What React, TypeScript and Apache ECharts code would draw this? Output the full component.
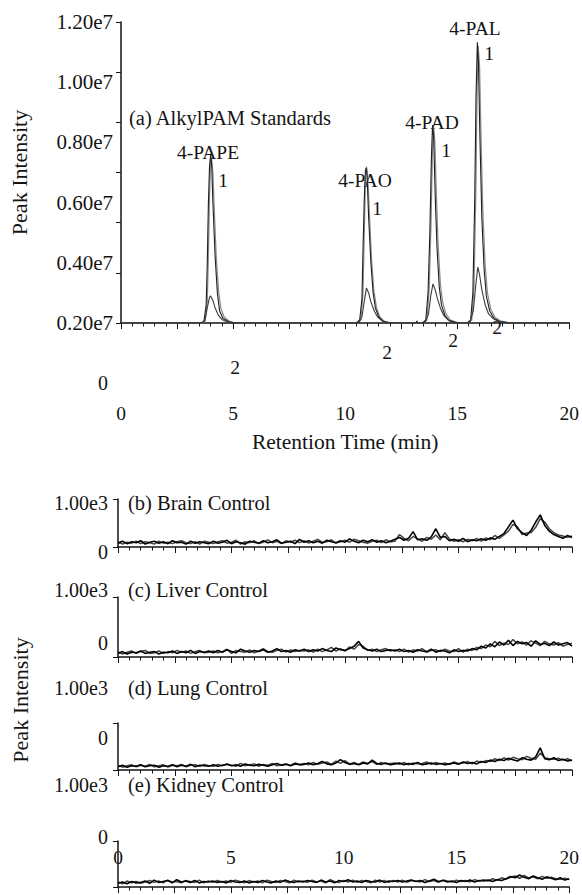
import React, { useEffect, useRef } from "react";
import * as echarts from "echarts";

// ---------- data ----------
// Retention times (min) for the control chromatograms
const TIMES = [0,0.2,0.4,0.6,0.8,1,1.2,1.4,1.6,1.8,2,2.2,2.4,2.6,2.8,3,3.2,3.4,3.6,3.8,4,
  4.2,4.4,4.6,4.8,5,5.2,5.4,5.6,5.8,6,6.2,6.4,6.6,6.8,7,7.2,7.4,7.6,7.8,8,
  8.2,8.4,8.6,8.8,9,9.2,9.4,9.6,9.8,10,10.2,10.4,10.6,10.8,11,11.2,11.4,11.6,11.8,12,
  12.2,12.4,12.6,12.8,13,13.2,13.4,13.6,13.8,14,14.2,14.4,14.6,14.8,15,15.2,15.4,15.6,15.8,16,
  16.2,16.4,16.6,16.8,17,17.2,17.4,17.6,17.8,18,18.2,18.4,18.6,18.8,19,19.2,19.4,19.6,19.8,20];

const BRAIN = [80,120,70,110,90,130,60,100,120,80,110,70,130,90,100,60,120,80,110,90,70,
  120,80,100,140,70,110,90,60,120,100,80,130,90,110,150,80,100,120,70,160,
  100,130,90,120,80,140,110,90,130,100,170,120,90,140,110,150,100,130,90,120,
  160,200,140,180,320,150,170,140,210,380,200,220,130,160,120,180,110,150,130,170,
  140,190,160,220,280,420,560,380,300,240,350,520,670,450,330,260,220,180,240,200];
const BRAIN_REPLICATE = [110,60,100,80,120,70,110,90,60,120,80,100,70,110,130,90,70,110,60,120,100,
  70,110,130,80,100,140,60,110,90,130,70,100,150,90,120,70,130,100,140,90,
  130,80,120,160,100,110,150,80,110,140,100,160,130,100,80,120,140,90,150,110,
  120,260,180,130,220,170,120,200,160,250,150,300,170,120,150,110,160,130,180,120,
  190,150,240,180,250,330,470,420,260,290,300,410,590,520,380,300,250,230,200,230];

const LIVER = [60,90,50,80,70,100,60,80,90,50,80,70,100,60,90,70,110,60,90,80,100,
  70,110,80,120,90,70,130,100,80,110,90,120,80,100,140,90,110,80,120,100,
  130,90,120,100,140,110,90,150,120,110,140,180,260,150,120,100,130,90,110,120,
  100,130,90,110,80,120,100,90,130,80,110,100,70,120,90,110,100,140,120,180,
  150,220,170,250,200,280,190,260,220,240,180,270,210,230,190,250,200,220,240,180];
const LIVER_REPLICATE = [90,50,80,100,60,90,110,60,70,100,60,90,70,110,80,100,60,90,110,70,80,
  100,70,90,130,60,110,90,80,120,70,100,140,90,80,110,130,80,120,90,110,
  100,120,80,130,90,120,160,100,140,100,170,130,210,180,110,130,90,120,140,100,
  120,90,130,80,120,100,140,80,110,120,90,130,100,90,140,80,130,110,160,140,
  200,170,260,190,230,210,290,220,250,200,270,230,190,260,220,200,240,180,210,230];

const LUNG = [70,100,60,90,80,110,70,90,100,60,90,80,110,70,100,80,120,70,100,90,80,
  110,80,100,120,90,110,80,130,100,90,120,100,80,110,140,100,120,90,130,110,
  120,150,110,140,180,130,110,150,220,160,120,140,110,150,130,210,140,120,150,110,
  130,150,110,140,120,160,110,130,150,120,140,110,130,150,120,170,140,160,130,180,
  160,210,180,230,200,250,220,190,260,230,210,280,470,240,220,260,200,230,190,210];
const LUNG_REPLICATE = [100,60,90,110,70,100,80,120,70,90,110,60,100,90,120,70,100,110,80,120,90,
  80,120,90,130,100,80,140,90,110,130,80,120,100,140,90,110,130,100,150,120,
  140,110,160,120,150,170,120,190,140,200,130,160,120,170,140,180,120,160,130,140,
  150,120,160,110,150,130,140,170,120,160,130,150,120,170,140,150,180,130,190,160,
  200,180,240,200,260,210,270,240,220,290,250,230,360,260,240,230,250,210,240,200];

const KIDNEY = [80,110,70,120,90,100,130,80,150,100,120,140,90,160,110,130,100,140,90,120,110,
  130,100,120,90,140,110,100,130,90,120,100,140,110,90,130,100,150,120,100,130,
  110,140,120,100,150,110,130,90,140,120,160,110,130,100,140,120,110,150,100,130,
  120,140,110,130,150,120,140,100,130,170,120,140,110,130,100,140,120,150,110,140,
  130,150,120,160,140,180,230,200,260,210,180,240,200,170,220,190,160,200,150,180];
const KIDNEY_REPLICATE = [110,70,130,90,120,80,110,140,100,130,90,150,110,120,90,140,120,100,150,90,130,
  100,140,110,130,100,150,120,90,140,110,130,90,150,120,100,140,120,90,150,110,
  130,100,150,110,130,90,160,120,100,140,110,150,100,140,120,90,150,110,140,100,
  140,110,150,100,140,130,110,160,120,140,100,150,130,110,150,120,140,110,160,130,
  160,130,180,150,200,170,210,240,190,250,200,220,180,230,190,210,180,170,190,160];

// Standards, intensities in units of 1e7: [time, intensity]
const STD_TRACE_1 = [
  [0,0.2],[3.55,0.2],[3.7,0.205],[3.8,0.26],[3.85,0.4],[3.9,0.6],[3.95,0.72],[4.0,0.758],[4.05,0.72],[4.1,0.6],[4.2,0.42],[4.3,0.3],[4.4,0.24],[4.55,0.215],[4.8,0.205],[5.0,0.2],
  [10.5,0.2],[10.65,0.21],[10.75,0.28],[10.8,0.45],[10.85,0.6],[10.9,0.7],[10.93,0.715],[10.98,0.69],[11.05,0.55],[11.15,0.4],[11.25,0.3],[11.35,0.25],[11.5,0.22],[11.7,0.205],[12.0,0.2],
  [13.15,0.2],[13.2,0.207],[13.25,0.2],
  [13.45,0.2],[13.6,0.21],[13.7,0.3],[13.78,0.5],[13.85,0.75],[13.9,0.858],[13.95,0.82],[14.02,0.62],[14.1,0.45],[14.2,0.32],[14.3,0.26],[14.45,0.225],[14.65,0.207],[15.0,0.2],
  [15.45,0.2],[15.6,0.21],[15.7,0.3],[15.78,0.6],[15.84,0.95],[15.9,1.133],[15.95,1.06],[16.02,0.8],[16.1,0.55],[16.2,0.38],[16.3,0.29],[16.45,0.24],[16.65,0.215],[16.9,0.205],[17.3,0.2],
  [20,0.2]];

const STD_TRACE_1_REPLICATE = [
  [0,0.2],[3.6,0.2],[3.75,0.205],[3.85,0.27],[3.9,0.42],[3.95,0.62],[4.0,0.73],[4.04,0.75],[4.1,0.7],[4.16,0.58],[4.25,0.42],[4.35,0.31],[4.45,0.25],[4.6,0.22],[4.85,0.205],[5.1,0.2],
  [10.55,0.2],[10.7,0.21],[10.8,0.3],[10.85,0.48],[10.9,0.65],[10.95,0.72],[11.0,0.7],[11.08,0.57],[11.18,0.41],[11.28,0.31],[11.4,0.25],[11.55,0.22],[11.75,0.205],[12.05,0.2],
  [13.5,0.2],[13.65,0.21],[13.75,0.31],[13.83,0.52],[13.9,0.78],[13.95,0.85],[14.0,0.81],[14.07,0.63],[14.15,0.46],[14.25,0.33],[14.35,0.27],[14.5,0.23],[14.7,0.21],[15.05,0.2],
  [15.5,0.2],[15.65,0.21],[15.75,0.32],[15.83,0.62],[15.89,0.98],[15.94,1.12],[16.0,1.05],[16.07,0.8],[16.15,0.56],[16.25,0.39],[16.35,0.3],[16.5,0.245],[16.7,0.218],[16.95,0.206],[17.4,0.2],
  [20,0.2]];

const STD_TRACE_2 = [
  [0,0.2],[3.6,0.2],[3.75,0.21],[3.85,0.25],[3.95,0.285],[4.0,0.29],[4.1,0.275],[4.2,0.25],[4.35,0.225],[4.5,0.212],[4.7,0.205],[5.0,0.202],[5.3,0.2],
  [10.6,0.2],[10.75,0.22],[10.85,0.27],[10.95,0.316],[11.05,0.3],[11.15,0.27],[11.3,0.24],[11.45,0.22],[11.65,0.207],[12.0,0.201],[12.3,0.2],
  [13.55,0.2],[13.72,0.23],[13.82,0.29],[13.92,0.33],[14.02,0.31],[14.12,0.28],[14.25,0.25],[14.4,0.225],[14.6,0.21],[14.9,0.203],[15.2,0.2],
  [15.55,0.2],[15.72,0.24],[15.82,0.32],[15.92,0.386],[16.0,0.36],[16.1,0.31],[16.25,0.26],[16.4,0.23],[16.6,0.215],[16.85,0.205],[17.2,0.202],[17.6,0.2],
  [20,0.2]];

// tick labels
const X_TICK_VALUES = [0, 5, 10, 15, 20];
const Y_TICK_LABELS_A = ["0.20e7", "0.40e7", "0.60e7", "0.80e7", "1.00e7", "1.20e7"];
const Y_TICK_LABELS_CONTROL = ["0", "1.00e3"];

const PEAK_NAMES = ["4-PAPE", "4-PAO", "4-PAD", "4-PAL"];
const PANEL_TITLES = ["(a) AlkylPAM Standards", "(b) Brain Control", "(c) Liver Control", "(d) Lung Control", "(e) Kidney Control"];
const CONTROLS = [BRAIN, LIVER, LUNG, KIDNEY];
const CONTROLS_REPLICATE = [BRAIN_REPLICATE, LIVER_REPLICATE, LUNG_REPLICATE, KIDNEY_REPLICATE];

// ---------- styling / layout ----------
const FONT = "Liberation Serif, Times New Roman, serif";
const INK = "#141414";
const F_TICK = 21;
const F_TITLE = 20.5;
const F_PEAK = 19.5;
const F_NAME = 22;

export default function App() {
  const ref = useRef<HTMLDivElement>(null);

  useEffect(() => {
    if (!ref.current) return;
    const chart = echarts.init(ref.current, null, { renderer: "svg" });

    const controlGrids = [
      { top: 499, height: 48 },
      { top: 597, height: 60 },
      { top: 723, height: 47 },
      { top: 841, height: 46 },
    ];
    // vertical shift (px, upward) of the [0, 1.00e3] labels per panel
    const labelShift = [[-5, -4], [14, 7], [32, 35], [50, 56]];
    const pad = (s: number) => (s >= 0 ? [0, 0, 2 * s, 0] : [-2 * s, 0, 0, 0]);

    const xBase = {
      type: "value",
      min: 0,
      max: 20,
      interval: 2.5,
      axisLine: { onZero: false, lineStyle: { color: INK, width: 1.5 } },
      axisTick: { show: true, length: 6, lineStyle: { color: INK, width: 1 } },
      minorTick: { show: true, splitNumber: 5, length: 3.5, lineStyle: { color: INK, width: 1 } },
      splitLine: { show: false },
      minorSplitLine: { show: false },
    };
    const xFmt = (v: number) => (X_TICK_VALUES.includes(Math.round(v * 100) / 100) ? String(Math.round(v)) : "");

    const grids = [{ left: 118, top: 22, width: 454, height: 301 }].concat(
      controlGrids.map((g) => ({ left: 118, top: g.top, width: 454, height: g.height }))
    );

    const xAxes: any[] = [
      {
        ...xBase,
        gridIndex: 0,
        axisLabel: { margin: 80, formatter: xFmt, color: INK, fontSize: 19.5, fontFamily: FONT },
        name: "Retention Time (min)",
        nameLocation: "middle",
        nameGap: 108,
        nameTextStyle: { color: INK, fontSize: 21.5, fontFamily: FONT },
      },
    ];
    controlGrids.forEach((_, i) => {
      xAxes.push({
        ...xBase,
        gridIndex: i + 1,
        axisLabel:
          i === 3
            ? { show: true, inside: true, margin: 20, formatter: xFmt, color: INK, fontSize: 19.5, fontFamily: FONT }
            : { show: false },
      });
    });

    const yAxes: any[] = [
      {
        type: "value",
        gridIndex: 0,
        min: 0,
        max: 6,
        interval: 1,
        axisLine: { show: true, lineStyle: { color: INK, width: 1.5 } },
        axisTick: { show: true, length: 5, lineStyle: { color: INK } },
        axisLabel: { show: false },
        splitLine: { show: false },
        name: "Peak Intensity",
        nameLocation: "middle",
        nameGap: 91,
        nameTextStyle: { color: INK, fontSize: F_NAME, fontFamily: FONT },
      },
      {
        type: "value",
        gridIndex: 0,
        position: "left",
        min: 0.2,
        max: 1.2,
        interval: 0.2,
        axisLine: { show: false },
        axisTick: { show: false },
        splitLine: { show: false },
        axisLabel: {
          margin: 8,
          color: INK,
          fontSize: F_TICK,
          fontFamily: FONT,
          formatter: (_v: number, i: number) => Y_TICK_LABELS_A[i] ?? "",
        },
      },
    ];
    controlGrids.forEach((_, i) => {
      const [s0, s1] = labelShift[i];
      yAxes.push({
        type: "value",
        gridIndex: i + 1,
        min: 0,
        max: 1000,
        interval: 1000,
        axisLine: { show: true, lineStyle: { color: INK, width: 1.5 } },
        axisTick: { show: true, length: 5, lineStyle: { color: INK } },
        splitLine: { show: false },
        axisLabel: {
          margin: 10,
          color: INK,
          fontSize: 20,
          fontFamily: FONT,
          formatter: (_v: number, idx: number) => (idx === 0 ? `{z|${Y_TICK_LABELS_CONTROL[0]}}` : `{t|${Y_TICK_LABELS_CONTROL[1]}}`),
          rich: {
            z: { padding: pad(s0), fontSize: 20, fontFamily: FONT, color: INK },
            t: { padding: pad(s1), fontSize: 20, fontFamily: FONT, color: INK },
          },
        },
      });
    });

    const line = (name: string, data: any[], xi: number, yi: number, color: string, width: number) => ({
      name,
      type: "line",
      xAxisIndex: xi,
      yAxisIndex: yi,
      data,
      showSymbol: false,
      symbol: "none",
      lineStyle: { color, width },
      z: 3,
    });

    const series: any[] = [
      line("Standards run 1 (replicate)", STD_TRACE_1_REPLICATE, 0, 1, "#8a8a8a", 1.2),
      line("Standards run 1", STD_TRACE_1, 0, 1, "#1e1e1e", 1.1),
      line("Standards run 2", STD_TRACE_2, 0, 1, "#3a3a3a", 1.1),
    ];
    CONTROLS.forEach((arr, i) => {
      series.push(line(PANEL_TITLES[i + 1] + " (replicate)", TIMES.map((t, k) => [t, CONTROLS_REPLICATE[i][k]]), i + 1, i + 2, "#444444", 1.5));
      series.push(line(PANEL_TITLES[i + 1], TIMES.map((t, k) => [t, arr[k]]), i + 1, i + 2, "#000000", 1.6));
    });

    const txt = (text: string, x: number, y: number, align = "center", size = F_PEAK, rotation = 0) => ({
      type: "text",
      x,
      y,
      rotation,
      silent: true,
      style: { text, fill: INK, fontSize: size, fontFamily: FONT, align, verticalAlign: "middle" },
    });

    const graphic = [
      txt(PANEL_TITLES[0], 129, 118, "left", F_TITLE),
      txt(PEAK_NAMES[0], 208, 152),
      txt(PEAK_NAMES[1], 365, 180),
      txt(PEAK_NAMES[2], 432, 122),
      txt(PEAK_NAMES[3], 475, 28),
      txt("1", 223, 180),
      txt("1", 377, 208),
      txt("1", 446, 150),
      txt("1", 489, 53),
      txt("2", 235, 367),
      txt("2", 387, 352),
      txt("2", 453, 340),
      txt("2", 497, 327),
      txt("0", 103, 383, "center", 20),
      txt(PANEL_TITLES[1], 128, 503, "left", F_TITLE),
      txt(PANEL_TITLES[2], 128, 590, "left", F_TITLE),
      txt(PANEL_TITLES[3], 128, 688, "left", F_TITLE),
      txt(PANEL_TITLES[4], 128, 785, "left", F_TITLE),
      txt("Peak Intensity", 20, 700, "center", F_NAME, Math.PI / 2),
    ];

    chart.setOption({
      animation: false,
      backgroundColor: "#ffffff",
      textStyle: { fontFamily: FONT },
      grid: grids,
      xAxis: xAxes,
      yAxis: yAxes,
      series,
      graphic,
    });

    return () => chart.dispose();
  }, []);

  return (
    <div
      ref={ref}
      style={{ position: "fixed", left: 0, top: 0, width: 582, height: 895, background: "#fff" }}
    />
  );
}
